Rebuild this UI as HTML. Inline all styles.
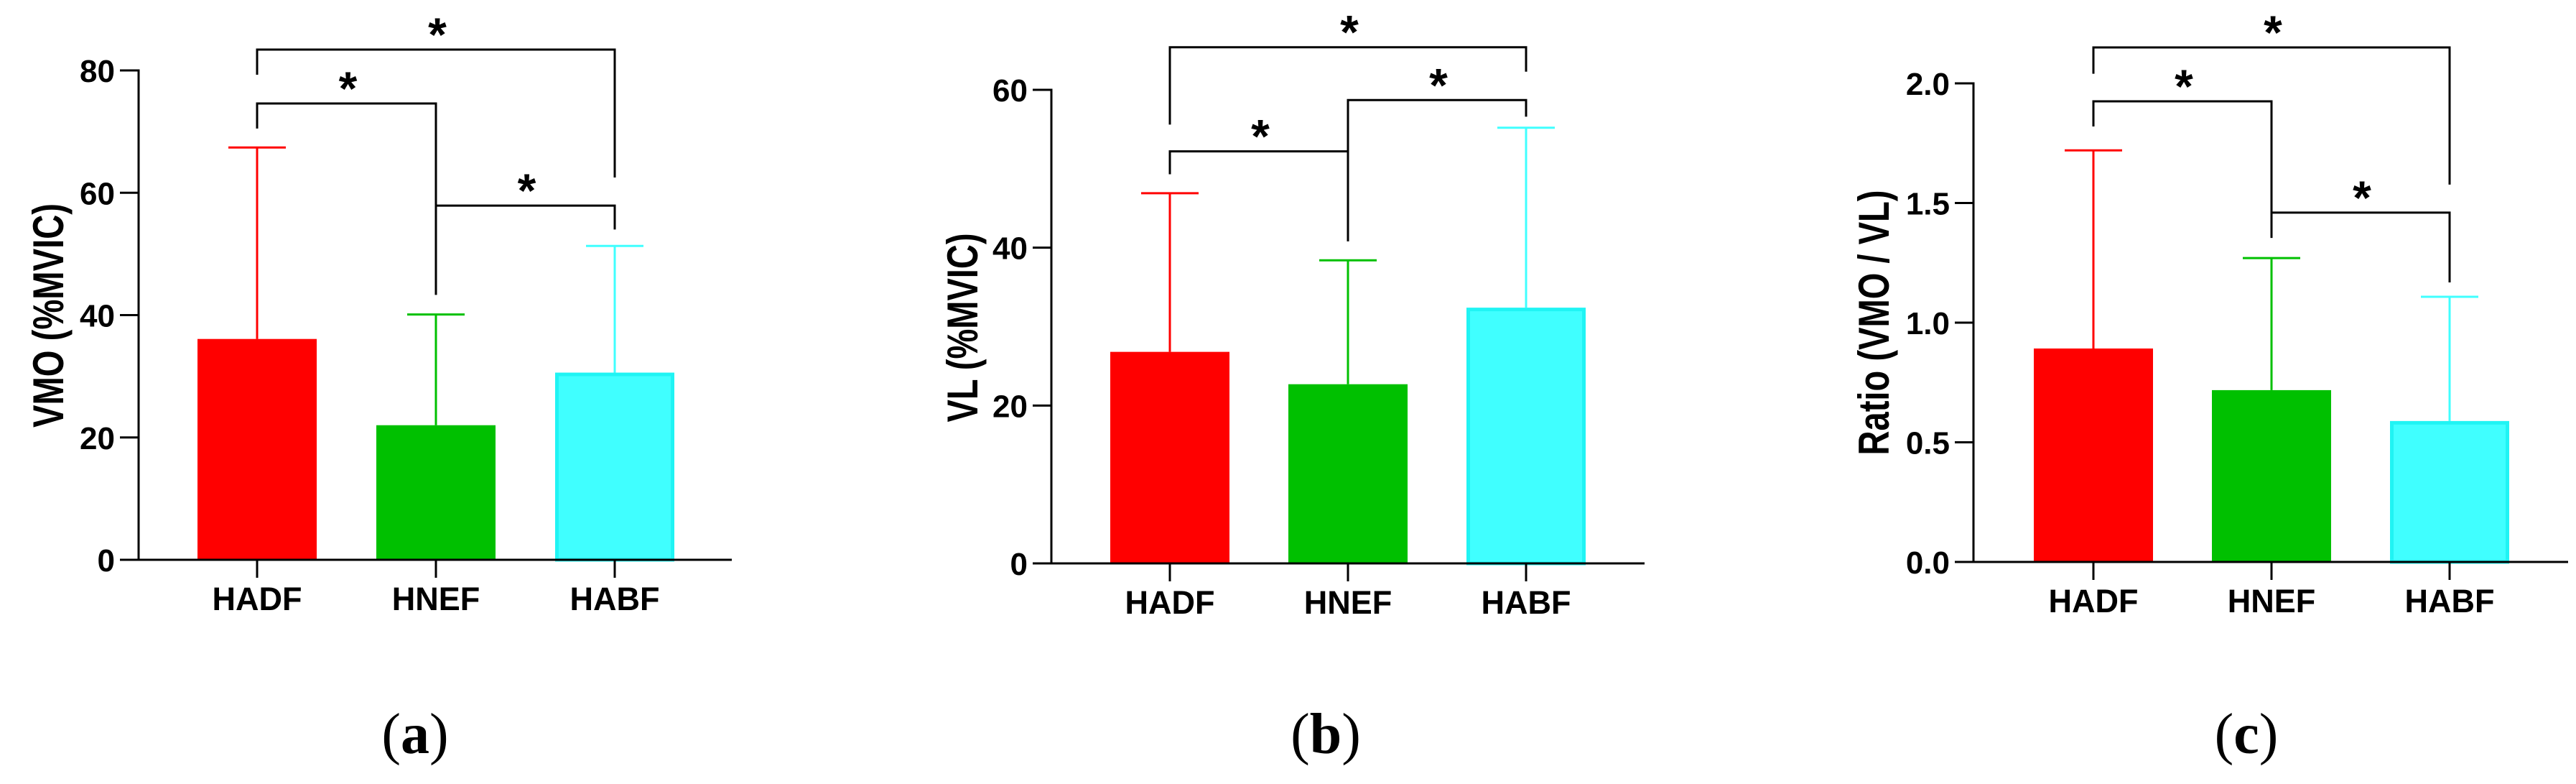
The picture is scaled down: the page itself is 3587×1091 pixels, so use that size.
<!DOCTYPE html>
<html><head><meta charset="utf-8"><style>
html,body{margin:0;padding:0;background:#fff;}
svg{display:block;}
text{font-family:"Liberation Sans",Arial,sans-serif;font-weight:bold;fill:#000;}
text.cap{font-family:"Liberation Serif",serif;font-weight:normal;}
</style></head><body>
<svg id="fig" width="3587" height="1091" viewBox="0 0 3587 1091" xmlns="http://www.w3.org/2000/svg"></svg>
<script>
const categories = ["HADF","HNEF","HABF"];
const colors = ["#ff0000","#00c000","#40ffff"];
// panel a
const aMeans = [36.1, 22.0, 30.6];
const aSD = [67.4, 40.1, 51.3];
const aTicks = [0,20,40,60,80];
const aBrackets = [[0,2,83.4,79.3,62.5],[0,1,74.6,70.5,43.3],[1,2,57.9,57.9,54.0]];
// panel b
const bMeans = [26.8, 22.7, 32.4];
const bSD = [46.9, 38.4, 55.2];
const bTicks = [0,20,40,60];
const bBrackets = [[0,2,65.4,55.6,62.3],[1,2,58.7,40.8,56.6],[0,1,52.2,49.3,52.2]];
// panel c
const cMeans = [0.892, 0.718, 0.589];
const cSD = [1.72, 1.27, 1.108];
const cTicks = ["0.0","0.5","1.0","1.5","2.0"];
const cBrackets = [[0,2,2.15,2.04,1.577],[0,1,1.925,1.82,1.354],[1,2,1.46,1.46,1.168]];

const NS = "http://www.w3.org/2000/svg";
const svg = document.getElementById('fig');
function mk(tag, attrs, parent){
  const e = document.createElementNS(NS, tag);
  for (const k in attrs) e.setAttribute(k, attrs[k]);
  (parent||svg).appendChild(e);
  return e;
}
function panel(cfg){
  const g = mk('g', {});
  
  
  const y = v => cfg.y0 - (v - cfg.min) / (cfg.max - cfg.min) * (cfg.y0 - cfg.yTop);
  const x = i => cfg.x0 + cfg.step * i;
  cfg.means.forEach((m,i)=>{
    const cx = x(i);
    const el = mk('line',{x1:cx,x2:cx,y1:y(m),y2:y(cfg.sd[i]),stroke:colors[i],'stroke-width':3},g);
    
    
    const cap = mk('line',{x1:cx-40,x2:cx+40,y1:y(cfg.sd[i]),y2:y(cfg.sd[i]),stroke:colors[i],'stroke-width':3},g);
    
    
    const attrs = {x:cx-83,y:y(m),width:166,height:y(cfg.min)-y(m),fill:colors[i]};
    if(i===2){attrs.x=cx-80.5;attrs.width=161;attrs.y=y(m)+2.5;attrs.height=y(cfg.min)-y(m)-2.5;attrs.stroke='#20f4f4';attrs['stroke-width']=5;}
    const b = mk('rect',attrs,g);
    
    
  });
  const ya = mk('line',{x1:cfg.ax,x2:cfg.ax,y1:y(cfg.max)-1.5,y2:y(cfg.min)+1.5,stroke:'#000','stroke-width':3},g);
  
  
  const xa = mk('line',{x1:cfg.ax-26,x2:cfg.xEnd,y1:y(cfg.min),y2:y(cfg.min),stroke:'#000','stroke-width':3},g);
  
  
  cfg.ticks.forEach(t=>{
    const v = parseFloat(t);
    const tl = mk('line',{x1:cfg.ax-26,x2:cfg.ax,y1:y(v),y2:y(v),stroke:'#000','stroke-width':3},g);
    
    
    const tt = mk('text',{x:cfg.ax-33,y:y(v)+16,'text-anchor':'end','font-size':44},g);
    tt.textContent = String(t);
    
    
  });
  categories.forEach((c,i)=>{
    const tl = mk('line',{x1:x(i),x2:x(i),y1:y(cfg.min),y2:y(cfg.min)+25,stroke:'#000','stroke-width':3},g);
    
    
    const t = mk('text',{x:x(i),y:cfg.y0+70,'text-anchor':'middle','font-size':45},g);
    t.textContent = c;
    
    
  });
  const yt = mk('text',{x:0,y:0,'text-anchor':'middle','font-size':60,textLength:cfg.ylen,lengthAdjust:'spacingAndGlyphs',transform:`translate(${cfg.ylx},${cfg.yly}) rotate(-90)`},g);
  yt.textContent = cfg.ylabel;
  
  
  cfg.brackets.forEach(b=>{
    const [i,j,lv,ld,rd] = b;
    const p = mk('path',{d:`M${x(i)},${y(ld)} V${y(lv)} H${x(j)} V${y(rd)}`,fill:'none',stroke:'#000','stroke-width':3},g);
    
    
    const s = mk('text',{x:(x(i)+x(j))/2+2,y:y(lv)+2,'text-anchor':'middle','font-size':66},g);
    s.textContent = '*';
    
    
  });
  const cp = mk('text',{x:cfg.capx,y:1048,'text-anchor':'middle','font-size':80,class:'cap'},g);
  
  
  cp.appendChild(document.createTextNode('('));
  const lt = mk('tspan',{'font-weight':'bold'},cp);
  lt.textContent = cfg.caption;
  cp.appendChild(document.createTextNode(')'));
}
panel({name:'panel-a',means:aMeans,sd:aSD,ticks:aTicks,brackets:aBrackets,min:0,max:80,y0:779,yTop:98,ax:193,x0:358,step:249,xEnd:1019,ylx:88,yly:439,ylen:312,ylabel:'VMO (%MVIC)',capx:578,caption:'a'});
panel({name:'panel-b',means:bMeans,sd:bSD,ticks:bTicks,brackets:bBrackets,min:0,max:60,y0:784,yTop:125,ax:1464,x0:1629,step:248,xEnd:2290,ylx:1361,yly:456,ylen:263,ylabel:'VL (%MVIC)',capx:1846,caption:'b'});
panel({name:'panel-c',means:cMeans,sd:cSD,ticks:cTicks,brackets:cBrackets,min:0,max:2,y0:782,yTop:116,ax:2748,x0:2915,step:248,xEnd:3576,ylx:2630,yly:449,ylen:369,ylabel:'Ratio (VMO / VL)',capx:3128,caption:'c'});
</script>
</body></html>
